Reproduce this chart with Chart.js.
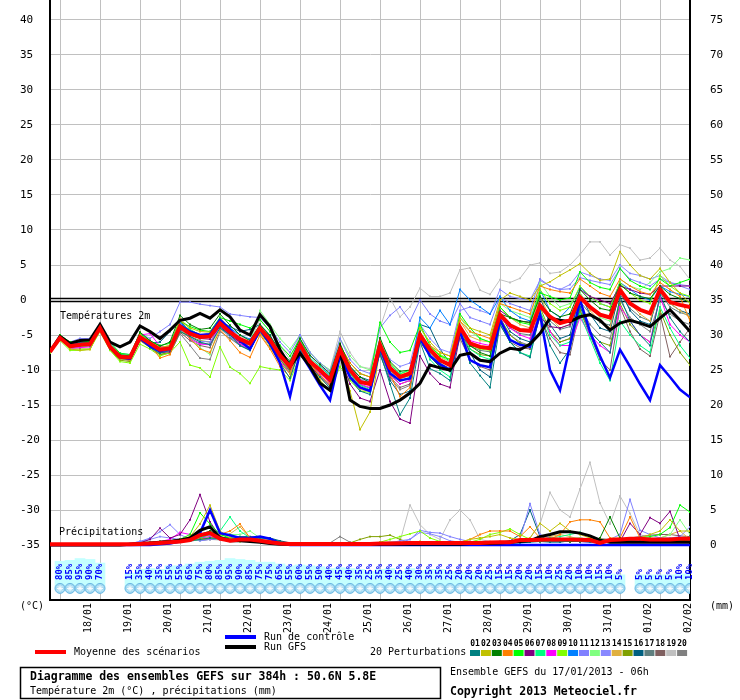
<!DOCTYPE html>
<html>
<head>
<meta charset="utf-8">
<script src="https://cdn.jsdelivr.net/npm/chart.js@4.4.1/dist/chart.umd.min.js"></script>
<style>
  html, body { margin: 0; padding: 0; background: #fff; }
  #wrap { width: 740px; height: 700px; }
</style>
</head>
<body>
<div id="wrap"><canvas id="gefs" width="740" height="700"></canvas></div>
<script>
// GEFS run 17/01/2013 06h, one value every 6h up to 384h (65 steps)
const dateLabels = ['18/01','19/01','20/01','21/01','22/01','23/01','24/01','25/01',
                    '26/01','27/01','28/01','29/01','30/01','31/01','01/02','02/02'];

// 2m temperature (°C)
const meanTemp = [-7.4,-5.4,-6.6,-6.4,-6.3, -4.0,-6.7,-8.1,-8.2, -5.3,-6.2,-7.1,-6.9, -3.8,-4.8,-5.3,-5.2, -3.3,-4.6,-5.6,-6.2, -4.0,-5.7,-7.9,-9.5, -6.4,-8.8,-10.0,-11.4, -7.1,-10.0,-11.7,-12.0, -6.4,-9.7,-11.0,-10.5, -5.0,-7.1,-8.6,-9.3, -3.9,-6.2,-6.7,-6.9, -2.1,-3.6,-4.3,-4.4, -0.8,-2.4,-3.3,-2.9, 0.4,-1.0,-2.1,-2.5, 1.4,-0.5,-1.4,-1.9, 1.5,-0.3,-0.7,-1.0];
const gfsTemp = [-7.4,-5.2,-6.2,-5.8,-5.7, -3.5,-6.0,-6.7,-6.0, -3.7,-4.5,-5.5,-4.3, -2.9,-2.6,-1.9,-2.6, -1.4,-2.4,-4.3,-5.0, -2.1,-3.8,-7.1,-9.5, -7.6,-9.5,-11.9,-12.9, -7.1,-14.3,-15.2,-15.5, -15.5,-15.0,-14.3,-13.3, -11.9,-9.3,-9.7,-10.0, -7.9,-7.6,-8.6,-8.8, -7.6,-6.9,-7.1,-6.3, -4.8,-2.6,-2.9,-3.1, -2.4,-2.1,-2.9,-4.3, -3.3,-2.9,-3.3,-3.8, -2.6,-1.4,-2.9,-4.5];
const ctrlTemp = [-7.4,-5.4,-6.5,-6.3,-6.4, -4.0,-6.8,-8.2,-8.4, -5.5,-6.6,-7.3,-7.0, -3.6,-4.5,-5.0,-4.9, -2.8,-4.2,-5.8,-7.0, -4.2,-6.2,-9.0,-13.8, -7.5,-9.8,-12.2,-14.3, -8.0,-11.0,-12.5,-13.0, -6.8,-10.5,-11.5,-11.2, -5.5,-8.0,-9.2,-10.0, -4.5,-8.6,-9.3,-9.6, -2.8,-5.7,-6.4,-6.7, -2.0,-10.0,-12.9,-6.5, 0.0,-4.5,-8.0,-11.1, -7.1,-9.5,-12.0,-14.3, -9.3,-11.0,-12.8,-13.9];

const t01 = [-7.3,-5.3,-6.2,-6.0,-6.1, -3.8,-6.5,-8.0,-8.3, -5.5,-6.8,-7.6,-7.2, -4.5,-5.2,-6.0,-6.4, -4.0,-5.0,-6.5,-7.2, -4.4,-6.5,-9.0,-11.2, -7.0,-9.8,-11.0,-12.6, -7.5,-11.2,-13.0,-13.5, -7.5,-12.0,-16.4,-14.0, -6.0,-9.8,-10.5,-11.5, -4.5,-9.0,-10.8,-12.5, -3.5,-6.0,-7.5,-8.2, -2.0,-6.5,-9.0,-7.0, -1.0,-4.5,-6.0,-7.5, 0.5,-3.0,-5.0,-6.5, 0.8,-2.5,-4.5,-6.0];
const t02 = [-7.5,-5.6,-7.0,-7.2,-7.1, -4.2,-6.9,-8.4,-8.6, -5.0,-6.0,-6.8,-6.5, -3.0,-4.0,-4.5,-4.6, -2.8,-4.2,-5.5,-6.4, -4.5,-6.5,-9.0,-10.5, -7.2,-9.5,-11.5,-13.0, -8.0,-13.0,-18.5,-16.0, -7.0,-10.0,-11.2,-10.8, -4.0,-6.0,-7.5,-8.0, -2.5,-4.0,-4.5,-5.0, 0.0,1.0,0.5,0.0, 2.0,2.6,3.5,4.3, 5.2,3.8,2.8,3.0, 6.9,5.0,3.5,3.0, 4.5,2.5,1.0,-0.5];
const t03 = [-7.4,-5.5,-6.4,-6.2,-6.0, -3.6,-6.4,-7.8,-8.0, -4.6,-5.8,-6.6,-6.0, -2.2,-3.5,-4.2,-4.0, -2.0,-3.6,-5.0,-5.8, -3.5,-5.2,-7.2,-8.8, -5.5,-7.9,-9.2,-10.5, -6.2,-9.5,-11.0,-11.8, -5.4,-8.8,-10.2,-10.0, -4.5,-8.0,-9.6,-10.2, -4.0,-6.5,-7.5,-8.0, -2.0,-2.5,-3.0,-3.2, 0.5,-1.5,-2.4,-2.0, 1.5,0.0,-1.2,-1.5, 2.2,1.0,0.5,0.2, 2.0,0.8,0.2,-0.3];
const t04 = [-7.2,-5.2,-6.3,-6.3,-6.2, -4.1,-6.8,-8.3,-8.5, -5.8,-6.4,-8.3,-7.8, -4.0,-5.5,-7.0,-7.5, -4.2,-5.8,-7.5,-8.2, -5.0,-7.0,-9.5,-11.0, -7.0,-9.2,-10.8,-12.0, -6.5,-9.0,-10.5,-11.0, -6.0,-10.5,-13.8,-12.5, -5.5,-6.5,-7.5,-8.0, -3.0,-4.5,-5.0,-5.5, -0.5,-1.0,-1.5,-2.0, 2.0,1.5,1.2,1.0, 3.0,2.0,1.0,0.5, 3.0,2.0,1.2,0.8, 2.5,1.5,0.5,-3.0];
const t05 = [-7.5,-5.0,-6.0,-5.8,-6.0, -3.9,-6.0,-7.6,-7.8, -4.8,-5.9,-6.5,-6.2, -3.0,-3.8,-4.3,-4.5, -2.5,-3.0,-3.5,-4.0, -2.8,-4.5,-6.5,-8.0, -5.5,-8.5,-10.2,-11.5, -6.5,-9.0,-10.5,-11.0, -3.2,-6.0,-7.5,-7.2, -3.5,-6.5,-8.0,-8.5, -2.0,-4.0,-5.5,-6.0, -1.0,-2.5,-3.2,-3.5, 1.0,0.5,0.0,0.3, 4.0,2.5,1.8,1.5, 4.5,2.8,2.0,1.5, 3.0,2.0,2.5,3.0];
const t06 = [-7.4,-5.6,-6.8,-6.5,-6.5, -4.3,-7.0,-8.4,-8.6, -5.6,-6.5,-7.5,-7.4, -4.2,-5.0,-5.5,-5.6, -3.8,-5.0,-6.0,-6.8, -4.6,-6.2,-8.2,-9.8, -6.8,-9.5,-10.8,-12.2, -8.0,-12.0,-14.0,-14.5, -10.0,-14.5,-17.0,-17.6, -8.0,-10.5,-12.0,-12.5, -5.0,-6.5,-6.8,-7.0, -1.5,-2.5,-3.0,-3.2, -2.5,-3.8,-4.0,-3.5, 1.5,0.5,0.0,-0.5, 2.0,1.5,1.0,0.8, 2.0,2.0,2.0,2.0];
const t07 = [-7.3,-5.3,-6.5,-6.6,-6.5, -4.0,-6.6,-7.9,-8.0, -5.0,-6.0,-7.0,-6.8, -3.5,-4.2,-5.0,-5.3, -3.0,-4.5,-5.8,-6.3, -4.0,-5.5,-7.5,-9.2, -6.2,-8.3,-9.5,-10.8, -6.8,-10.5,-12.2,-12.8, -6.5,-9.2,-10.5,-10.0, -4.5,-8.5,-10.0,-11.0, -4.5,-7.0,-8.0,-8.5, -3.0,-6.0,-7.5,-8.0, -1.5,-5.0,-6.5,-6.0, -2.0,-5.5,-9.0,-11.5, -3.0,-5.0,-6.5,-7.5, -1.0,-4.0,-6.5,-8.3];
const t08 = [-7.4,-5.4,-6.9,-6.8,-6.7, -4.2,-6.9,-8.3,-8.4, -5.0,-4.8,-6.6,-7.0, -3.6,-5.6,-6.3,-6.4, -3.6,-5.0,-6.3,-7.0, -4.3,-6.4,-8.8,-10.5, -6.6,-9.0,-10.5,-11.8, -7.5,-10.2,-12.0,-12.5, -6.8,-10.8,-12.0,-11.5, -5.2,-7.2,-8.5,-9.0, -4.0,-5.8,-6.2,-6.5, -2.5,-4.0,-5.0,-5.5, -2.0,-4.5,-6.5,-6.5, -2.5,-5.0,-6.5,-7.5, -1.0,-3.0,-5.0,-6.0, 0.5,-3.5,-5.0,-6.0];
const t09 = [-7.6,-5.8,-7.2,-7.2,-7.0, -4.5,-7.2,-8.8,-9.0, -6.3,-7.0,-8.0,-7.5, -6.0,-9.3,-9.7,-11.0, -6.7,-9.6,-10.5,-11.9, -9.5,-9.8,-10.0,-11.5, -8.0,-9.5,-11.5,-13.0, -9.5,-11.5,-13.0,-13.2, -6.2,-9.0,-10.6,-10.0, -6.0,-6.8,-7.8,-8.5, -4.5,-6.5,-7.0,-7.2, -1.0,-2.5,-3.0,-3.3, 1.5,-0.5,-1.5,-1.0, 2.0,0.5,-0.5,-1.0, 2.5,1.0,0.0,-0.5, 3.5,2.0,1.0,0.5];
const t10 = [-7.4,-5.3,-6.5,-6.2,-6.1, -4.0,-6.6,-8.0,-8.1, -5.1,-6.1,-7.0,-6.8, -3.2,-4.4,-5.0,-4.8, -2.8,-4.0,-5.0,-5.6, -3.8,-5.8,-7.8,-9.3, -6.0,-8.5,-9.8,-11.0, -6.5,-9.8,-11.5,-11.8, -6.0,-10.0,-11.2,-10.8, -2.5,-4.0,-1.5,-3.5, 1.5,0.0,-1.0,-2.0, 0.5,-1.5,-2.5,-3.0, 1.5,-1.5,-2.5,-1.0, 1.8,0.5,-0.5,-1.0, 2.5,1.5,0.5,0.0, 2.0,1.2,0.8,0.5];
const t11 = [-7.4,-5.2,-6.0,-5.5,-5.5, -3.6,-6.2,-7.6,-7.8, -4.8,-5.5,-4.5,-3.5, -0.3,-0.3,-0.6,-0.8, -1.0,-2.0,-2.2,-2.4, -2.5,-4.0,-6.0,-7.5, -5.0,-7.5,-9.0,-10.2, -5.5,-8.5,-10.0,-10.5, -4.0,-2.2,-1.0,-3.0, 0.0,-2.0,-3.0,-3.5, -0.5,-2.5,-3.0,-3.5, 0.5,-0.5,-1.0,-1.5, 3.0,2.0,1.5,1.6, 3.2,2.8,2.5,2.2, 4.5,3.0,2.5,2.0, 3.0,2.5,2.0,1.5];
const t12 = [-7.3,-5.1,-6.1,-5.9,-5.8, -3.5,-6.3,-7.7,-7.9, -5.0,-6.2,-7.2,-7.0, -4.0,-5.5,-6.8,-7.8, -3.5,-4.5,-5.5,-6.0, -1.5,-3.5,-5.5,-7.0, -5.0,-7.5,-9.0,-10.0, -5.5,-8.0,-9.5,-10.0, -5.5,-9.5,-11.5,-11.0, -3.8,-6.5,-8.0,-8.8, -2.5,-4.5,-5.5,-6.0, -0.5,-1.5,-2.0,-2.5, 2.5,0.5,-1.0,-0.5, 1.0,-1.0,-2.5,-3.0, 3.0,2.0,1.5,2.5, 4.0,4.5,6.0,5.7];
const t13 = [-7.4,-5.5,-6.6,-6.3,-6.2, -4.1,-6.8,-8.2,-8.3, -5.6,-6.6,-7.4,-7.3, -4.2,-5.3,-5.9,-6.0, -3.9,-5.2,-6.3,-6.9, -3.8,-5.3,-7.2,-8.8, -5.8,-8.0,-9.3,-10.7, -6.8,-9.6,-11.3,-11.6, -5.8,-8.5,-9.5,-9.0, -3.5,-5.5,-7.0,-7.5, -1.5,-1.0,-1.5,-2.0, 1.5,0.5,0.2,0.0, 2.8,2.0,1.5,2.2, 4.0,3.5,3.0,2.8, 5.0,3.8,3.5,3.0, 3.5,2.5,2.2,2.0];
const t14 = [-7.5,-5.6,-6.7,-6.6,-6.5, -3.8,-6.4,-7.9,-8.0, -4.6,-5.8,-6.8,-6.5, -2.6,-4.2,-5.0,-5.2, -2.5,-4.2,-5.5,-6.5, -4.8,-6.8,-9.0,-10.5, -7.2,-9.6,-11.2,-12.5, -7.8,-11.0,-12.8,-13.0, -5.8,-9.5,-10.8,-10.2, -4.5,-6.8,-8.2,-8.8, -3.0,-5.2,-5.8,-6.0, -1.0,-2.5,-3.5,-4.0, 0.5,-2.5,-4.0,-3.5, 1.0,-1.5,-3.0,-4.0, 2.0,-0.5,-2.0,-3.0, 1.5,-0.5,-1.5,-2.5];
const t15 = [-7.6,-5.6,-7.0,-7.0,-7.0, -4.3,-7.1,-8.6,-8.8, -5.8,-6.8,-7.8,-7.5, -4.5,-5.2,-5.8,-6.0, -3.8,-5.0,-6.2,-6.8, -4.8,-6.2,-8.5,-10.0, -7.0,-9.2,-10.5,-11.8, -7.8,-10.8,-12.5,-13.0, -7.0,-10.5,-12.0,-11.5, -5.5,-8.0,-9.5,-10.0, -4.5,-7.0,-7.8,-8.0, -2.5,-5.0,-6.2,-6.5, -1.0,-4.5,-6.0,-5.5, -1.5,-4.5,-6.0,-6.5, -0.5,-3.5,-5.0,-6.0, -1.5,-5.0,-7.5,-9.3];
const t16 = [-7.4,-5.3,-6.4,-6.1,-6.0, -3.8,-6.5,-8.0,-8.1, -5.2,-6.2,-6.0,-4.5, -3.0,-4.5,-5.2,-5.0, -3.0,-3.8,-4.5,-4.2, -3.5,-5.0,-7.5,-9.0, -6.0,-8.5,-10.0,-11.5, -7.0,-9.5,-11.0,-11.5, -7.8,-11.5,-13.5,-13.0, -3.5,-4.0,-7.0,-9.0, -4.0,-7.5,-10.0,-11.0, -2.0,-4.5,-5.5,-6.0, 0.5,-3.5,-5.5,-5.0, 1.0,-2.0,-4.0,-4.5, 1.5,-1.5,-3.0,-3.5, 2.0,-0.5,-1.5,-2.0];
const t17 = [-7.4,-5.4,-6.5,-6.4,-6.4, -4.0,-6.7,-8.2,-8.3, -5.6,-6.8,-7.8,-7.6, -4.4,-5.4,-6.2,-6.3, -4.0,-5.3,-6.5,-7.2, -4.3,-6.0,-8.3,-9.9, -6.7,-9.1,-10.4,-11.9, -7.4,-10.4,-12.1,-12.6, -6.7,-10.2,-11.6,-11.1, -5.3,-7.5,-9.0,-9.8, -4.2,-6.6,-7.2,-7.4, -2.4,-4.0,-4.8,-5.0, -1.0,-3.0,-4.2,-3.8, -0.2,-2.0,-3.2,-3.6, 0.8,-1.2,-2.4,-3.0, 1.0,-1.0,-1.8,-2.2];
const t18 = [-7.3,-5.3,-6.3,-6.5,-6.5, -4.1,-6.7,-8.3,-8.5, -5.4,-6.0,-7.5,-7.7, -4.6,-5.8,-6.5,-6.8, -3.5,-5.0,-6.0,-6.5, -4.5,-6.5,-8.5,-10.2, -6.5,-9.0,-10.2,-11.6, -7.2,-10.0,-11.8,-12.2, -7.0,-11.0,-12.5,-12.0, -6.0,-8.0,-9.5,-10.0, -5.5,-8.5,-9.5,-10.0, -3.5,-6.0,-6.8,-7.0, -2.5,-5.5,-7.5,-7.8, -1.5,-5.0,-8.5,-10.0, -1.0,-4.5,-7.0,-8.0, -2.0,-8.1,-6.0,-4.0];
const t19 = [-7.4,-5.2,-6.3,-6.2,-6.2, -3.9,-6.6,-8.0,-8.1, -5.0,-6.0,-6.8,-6.6, -3.2,-4.4,-5.0,-5.4, -2.5,-4.0,-5.2,-5.8, -2.8,-4.5,-6.5,-8.5, -5.0,-7.5,-9.0,-10.0, -4.5,-7.5,-9.5,-9.8, -4.0,0.3,-2.4,-1.0, 1.7,0.5,0.5,1.0, 4.3,4.6,1.4,0.8, 2.9,2.5,3.1,5.0, 5.3,3.8,4.0,5.0, 6.5,8.3,8.3,6.4, 7.9,7.4,5.7,6.0, 7.4,5.7,4.8,2.9];
const t20 = [-7.5,-5.5,-6.8,-6.7,-6.6, -4.0,-6.6,-8.3,-8.6, -5.4,-6.7,-7.8,-7.6, -4.8,-6.5,-8.3,-8.5, -4.5,-5.5,-6.5,-7.0, -4.2,-6.0,-8.5,-10.5, -6.8,-9.5,-11.0,-12.3, -7.5,-10.5,-12.5,-13.0, -7.2,-11.2,-12.8,-12.2, -5.5,-7.8,-9.2,-10.0, -4.8,-7.5,-8.5,-9.0, -2.8,-5.0,-6.0,-6.5, -1.8,-4.5,-6.0,-5.5, -1.0,-3.5,-5.0,-5.5, 0.0,-2.5,-3.5,-4.5, 0.0,-2.0,-3.0,-3.5];

// 6h precipitation (mm)
const meanRain = [0.1,0.1,0.1,0.1,0.1, 0.1,0.1,0.1,0.1, 0.15,0.2,0.3,0.4, 0.5,0.7,1.4,1.7, 0.9,0.6,0.8,0.8, 0.6,0.4,0.2,0.15, 0.15,0.15,0.15,0.15, 0.15,0.15,0.15,0.15, 0.2,0.2,0.25,0.3, 0.3,0.3,0.3,0.3, 0.3,0.3,0.3,0.35, 0.4,0.4,0.7,0.7, 0.75,0.8,0.8,0.8, 0.75,0.7,0.3,0.7, 0.8,0.9,0.9,0.8, 0.8,0.8,0.9,0.9];
const gfsRain = [0,0,0,0,0, 0,0,0,0.1, 0.2,0.3,0.4,0.5, 0.7,1.0,2.1,2.6, 1.0,0.6,0.6,0.5, 0.4,0.2,0.1,0.1, 0.1,0.1,0.1,0.1, 0.1,0.1,0.1,0.1, 0.1,0.1,0.1,0.1, 0.1,0.1,0.1,0.1, 0.1,0.2,0.2,0.2, 0.3,0.4,0.5,0.6, 1.2,1.5,1.9,1.9, 1.7,1.3,0.7,0.4, 0.4,0.4,0.4,0.4, 0.4,0.4,0.4,0.4];
const ctrlRain = [0,0,0,0,0, 0,0,0,0, 0,0,0.1,0.2, 0.5,0.8,1.7,5.0, 1.7,1.4,1.0,1.0, 1.2,0.9,0.2,0, 0,0,0,0, 0,0,0,0, 0,0,0,0, 0,0,0,0, 0,0,0,0, 0,0,0,0, 0,0,0,0, 0,0,0,0, 0,0,0,0, 0,0,0,0];

const r01 = [0,0,0,0,0, 0,0,0,0.1, 0.2,0.2,0.3,0.4, 0.5,0.6,0.8,1.0, 0.9,0.8,1.0,1.0, 1.0,0.9,0.5,0.2, 0.1,0.1,0.2,0.2, 0.1,0.1,0.1,0, 0,0,0,0.1, 0.1,0.1,0.2,0.2, 0.3,0.3,0.2,0.2, 0.2,0.3,0.3,0.4, 0.5,0.4,0.4,0.6, 0.5,0.4,0.4,0.5, 0.8,0.6,0.5,0.5, 0.6,0.6,0.5,0.5];
const r02 = [0,0,0.1,0.1,0.1, 0,0,0,0.1, 0.2,0.4,0.5,0.6, 0.8,1.2,3.0,5.7, 2.0,1.0,0.8,0.7, 0.6,0.5,0.3,0.1, 0.1,0.1,0,0, 0,0.1,0.1,0.1, 0.1,0.1,0.2,0.3, 0.5,0.3,0.2,0.2, 0.4,0.8,1.0,1.2, 1.5,1.0,0.8,1.0, 3.1,2.0,3.1,2.0, 1.5,1.0,0.8,0.6, 0.8,0.8,1.0,1.5, 2.0,3.6,2.0,2.0];
const r03 = [0,0,0,0,0, 0,0,0.1,0.1, 0.2,0.3,0.5,0.6, 0.8,1.0,1.5,2.0, 1.2,0.8,0.6,0.5, 0.4,0.3,0.2,0.1, 0.1,0,0,0, 0,0,0,0.1, 0.1,0.1,0.1,0.1, 0.2,0.2,0.3,0.2, 0.3,0.3,0.4,0.3, 0.3,0.5,0.6,0.5, 0.6,0.8,0.6,0.5, 0.5,0.6,1.0,4.0, 1.0,0.6,0.5,0.6, 0.7,0.6,0.6,0.7];
const r04 = [0,0,0,0,0, 0,0,0,0.1, 0.2,0.3,0.4,0.5, 0.6,0.8,0.9,1.0, 1.5,2.0,3.0,1.0, 0.6,0.4,0.2,0.1, 0.1,0.1,0.1,0, 0,0,0,0.1, 0.1,0.1,0.2,0.2, 0.2,0.3,0.3,0.3, 0.4,0.8,1.5,2.0, 2.0,2.0,1.2,2.6, 1.0,0.8,1.5,3.3, 3.6,3.6,3.3,1.0, 1.0,4.0,1.0,0.8, 0.8,0.7,0.8,0.8];
const r05 = [0,0,0,0,0, 0,0,0,0.1, 0.2,0.3,0.4,0.6, 0.8,1.5,4.6,3.0, 1.5,1.0,0.8,0.6, 0.5,0.3,0.2,0.1, 0.1,0.1,0,0, 0,0,0,0, 0,0.1,0.1,0.1, 0.1,0.1,0.2,0.2, 0.2,0.2,0.3,0.3, 0.3,0.3,0.4,0.5, 0.5,0.6,0.6,0.5, 0.5,0.5,0.5,0.6, 0.6,0.8,1.0,1.2, 1.5,2.5,5.7,4.7];
const r06 = [0,0,0,0,0, 0,0,0,0.1, 0.3,0.8,2.4,1.0, 1.5,3.6,7.2,3.3, 1.2,0.8,0.6,0.5, 0.4,0.3,0.2,0.1, 0.1,0.1,0.1,0.1, 0.1,0,0,0, 0,0,0.1,0.1, 0.1,0.2,0.2,0.2, 0.2,0.3,0.3,0.4, 0.4,0.5,0.5,0.6, 0.6,0.5,0.5,0.5, 0.5,0.5,0.5,0.6, 0.5,3.1,1.5,3.9, 3.1,4.8,0.8,0.8];
const r07 = [0,0,0,0,0, 0,0,0,0.1, 0.2,0.3,0.4,0.5, 0.6,0.8,1.0,1.5, 2.0,4.0,2.0,1.0, 0.6,0.4,0.2,0.1, 0.1,0.1,0.1,0.1, 0,0,0,0, 0.1,0.1,0.1,0.1, 0.2,0.2,0.3,0.2, 0.3,0.3,0.2,0.3, 0.4,0.5,0.6,0.8, 0.8,1.0,1.2,1.5, 1.8,1.2,0.8,0.6, 0.6,0.5,0.5,0.6, 0.7,0.8,0.7,0.6];
const r08 = [0,0,0,0,0, 0,0,0,0.1, 0.2,0.3,0.5,0.8, 1.8,1.5,1.0,1.2, 0.8,0.7,0.6,0.5, 0.4,0.3,0.2,0.1, 0,0,0,0, 0,0,0,0, 0,0,0.1,0.1, 0.1,0.1,0.2,0.2, 0.2,0.2,0.3,0.3, 0.3,0.4,0.5,0.5, 0.6,0.6,0.8,0.6, 0.5,0.4,0.4,0.5, 0.5,0.6,0.6,0.6, 0.6,0.6,0.6,0.7];
const r09 = [0,0,0,0,0, 0,0,0,0, 0.1,0.2,0.3,0.4, 0.5,0.6,0.8,1.0, 0.8,0.6,0.5,0.5, 0.4,0.3,0.2,0.1, 0.1,0.1,0.1,0.1, 0.1,0.1,0.1,0.1, 0.4,0.8,1.2,1.6, 2.0,1.0,0.5,0.3, 0.3,0.4,0.8,1.5, 1.8,2.3,1.5,0.8, 0.6,0.5,0.6,0.5, 0.5,0.5,0.4,0.5, 0.5,0.5,0.6,0.6, 0.7,0.8,0.9,0.9];
const r10 = [0,0,0,0,0, 0,0,0,0.1, 0.2,0.2,0.3,0.4, 0.5,0.7,1.0,1.5, 1.0,0.7,0.6,0.5, 0.4,0.3,0.2,0.1, 0.1,0.1,0.1,0.1, 0.1,0.1,0,0, 0,0,0.1,0.1, 0.2,0.2,0.2,0.3, 0.3,0.3,0.3,0.4, 0.4,0.5,0.5,0.6, 0.8,0.9,0.9,0.8, 0.7,0.6,0.6,0.5, 0.5,0.6,0.6,0.6, 0.6,0.7,0.7,0.7];
const r11 = [0,0,0,0,0, 0,0,0,0.2, 0.5,1.0,1.9,2.9, 1.5,0.8,0.6,0.8, 0.8,0.7,0.6,0.5, 0.4,0.3,0.2,0.1, 0.1,0.1,0,0, 0,0,0,0, 0.1,0.1,0.3,0.8, 2.1,1.8,1.7,1.2, 0.8,0.5,0.4,0.3, 0.4,0.5,0.8,5.9, 1.5,1.0,0.8,0.6, 0.6,0.6,0.6,0.8, 1.5,6.5,2.1,1.5, 1.0,0.8,0.8,0.7];
const r12 = [0,0,0,0,0, 0,0,0,0.1, 0.2,0.3,0.4,0.5, 0.6,0.8,1.0,1.2, 1.2,1.5,1.5,2.0, 1.0,0.5,0.3,0.1, 0.1,0.1,0.1,0.1, 0.1,0.1,0,0, 0,0.1,0.1,0.1, 0.2,0.2,0.2,0.2, 0.3,0.3,0.3,0.3, 0.4,0.4,0.5,0.5, 0.5,0.6,0.8,1.0, 1.0,0.8,0.6,0.6, 0.6,0.7,0.8,0.8, 1.0,1.5,3.6,1.5];
const r13 = [0,0,0,0,0, 0,0,0.1,0.2, 0.5,0.8,1.2,1.0, 0.8,0.7,0.8,1.0, 0.8,0.7,0.6,0.5, 0.4,0.3,0.2,0.1, 0.1,0.1,0.1,0.1, 0.1,0.1,0.1,0.1, 0.2,0.3,0.6,0.8, 1.8,1.6,1.2,0.6, 0.4,0.3,0.3,0.4, 0.5,0.5,0.6,0.8, 0.7,0.6,0.6,0.6, 0.6,0.6,0.6,0.6, 0.6,0.7,0.8,0.9, 1.0,1.0,1.2,2.6];
const r14 = [0,0,0,0,0, 0,0,0,0.1, 0.2,0.3,0.4,0.5, 0.6,0.7,0.9,1.0, 1.2,1.6,2.6,1.0, 0.6,0.4,0.2,0.1, 0.1,0.1,0.1,0.1, 0.1,0.1,0.1,0.1, 0.1,0.1,0.1,0.1, 0.1,0.2,0.2,0.2, 0.2,0.3,0.3,0.3, 0.4,0.5,0.6,0.6, 0.8,1.2,1.5,1.2, 0.8,0.6,0.5,0.5, 0.5,0.6,0.6,0.8, 1.0,1.5,2.0,0.8];
const r15 = [0,0,0,0,0, 0,0,0,0.1, 0.2,0.2,0.3,0.4, 0.5,0.6,0.8,0.9, 0.9,0.8,0.8,0.7, 0.7,0.6,0.4,0.2, 0.1,0.1,0.1,0.1, 0.1,0.3,0.8,1.2, 1.2,1.4,0.8,0.3, 0.2,0.2,0.2,0.2, 0.2,0.2,0.3,0.3, 0.3,0.4,0.5,0.5, 0.5,0.5,0.5,0.5, 0.5,0.5,0.5,0.5, 0.5,0.6,0.6,0.6, 0.6,0.6,0.6,0.6];
const r16 = [0,0,0,0,0, 0,0,0,0.1, 0.2,0.3,0.3,0.4, 0.5,0.6,0.8,1.0, 1.0,1.1,1.2,1.2, 1.1,1.0,0.6,0.3, 0.2,0.2,0.2,0.2, 0.2,0.1,0.1,0.1, 0.1,0.1,0.1,0.1, 0.1,0.2,0.2,0.3, 0.3,0.3,0.3,0.3, 0.4,0.6,1.5,5.0, 1.2,0.8,0.6,0.6, 0.5,0.5,0.5,0.5, 0.5,0.5,0.5,0.5, 0.5,0.6,0.6,0.6];
const r17 = [0,0,0,0,0, 0,0,0,0.1, 0.2,0.3,0.3,0.4, 0.5,0.6,0.7,0.8, 0.9,0.9,1.0,1.0, 0.9,0.8,0.5,0.2, 0.1,0.1,0.1,0.1, 0.1,0.1,0.1,0.1, 0.1,0.1,0.1,0.1, 0.2,0.2,0.2,0.2, 0.2,0.2,0.3,0.3, 0.3,0.4,0.4,0.5, 0.5,0.6,0.7,0.9, 1.0,0.8,0.7,0.6, 0.6,0.6,0.5,0.5, 0.5,0.5,0.6,0.6];
const r18 = [0,0,0,0,0, 0,0,0,0.1, 0.1,0.2,0.3,0.4, 0.5,0.6,0.7,0.8, 0.8,0.7,0.6,0.6, 0.5,0.4,0.2,0.1, 0.1,0.1,0.1,0.1, 0.1,0.1,0.1,0.1, 0.1,0.1,0.1,0.1, 0.1,0.1,0.2,0.2, 0.2,0.3,0.3,0.3, 0.4,0.4,0.5,0.5, 0.5,0.6,0.6,0.7, 0.8,0.9,0.9,0.8, 0.8,1.0,1.2,1.4, 1.5,1.5,1.3,1.2];
const r19 = [0,0,0,0,0, 0,0,0,0.1, 0.1,0.2,0.3,0.4, 0.5,0.6,0.7,0.8, 0.7,0.6,0.5,0.5, 0.4,0.3,0.2,0.1, 0.1,0.1,0.1,0.1, 0.1,0.1,0.1,0.2, 0.3,0.5,0.5,5.7, 2.9,1.5,0.8,3.6, 5.0,3.6,0.8,0.5, 0.5,0.6,0.6,1.0, 3.0,7.5,5.0,4.0, 8.0,11.8,6.0,3.0, 7.0,4.5,1.5,1.0, 0.8,0.8,0.7,0.7];
const r20 = [0,0,0,0,0, 0,0,0,0.1, 0.2,0.3,0.4,0.4, 0.5,0.6,0.7,0.9, 0.9,0.8,0.8,0.7, 0.6,0.5,0.3,0.2, 0.1,0.1,0.2,0.3, 1.2,0.4,0.2,0.1, 0.1,0.1,0.1,0.1, 0.2,0.2,0.2,0.2, 0.2,0.3,0.3,0.3, 0.3,0.4,0.4,0.5, 0.6,0.7,0.8,0.8, 0.8,0.7,0.6,0.6, 0.6,0.5,0.5,0.6, 0.6,0.6,0.6,0.6];

// probability of snow (%), null = no snow
const snowProb = [null,80,85,95,90,70,null,null, 15,35,40,35,55,55,65,75,80,85,95,90,85,75,75,65,55,60,55,50,40,45,40,35,
                  25,35,40,25,40,30,35,35,25,20,20,20,25,15,15,20,20,15,10,25,20,10,10,15,10,5, null,5,5,5,5,10,10];

const pertTemp = [t01,t02,t03,t04,t05,t06,t07,t08,t09,t10,t11,t12,t13,t14,t15,t16,t17,t18,t19,t20];
const pertRain = [r01,r02,r03,r04,r05,r06,r07,r08,r09,r10,r11,r12,r13,r14,r15,r16,r17,r18,r19,r20];
const pertColors = ['#008080','#c0c000','#008000','#ff8000','#00ff00','#800080','#00ff80','#ff00ff','#80ff00','#0080ff',
                    '#8080ff','#80ff80','#8888ff','#e0b040','#80a000','#006080','#608080','#806060','#c0c0c0','#808080'];

const MONO = '"DejaVu Sans Mono", "Liberation Mono", monospace';
Chart.defaults.font.family = MONO;
Chart.defaults.color = '#000';

function pts(arr) {
  return arr.map((v, i) => ({x: i, y: v}));
}
function thickLine(arr, color, width, axis) {
  return {data: pts(arr), yAxisID: axis, borderColor: color, borderWidth: width,
          pointRadius: 0, tension: 0, fill: false};
}
function thinLine(arr, color, axis) {
  return {data: pts(arr), yAxisID: axis, borderColor: color, borderWidth: 1,
          pointRadius: 1.3, pointStyle: 'rect', pointBackgroundColor: color, pointBorderWidth: 0,
          tension: 0, fill: false};
}

const datasets = [
  thickLine(meanTemp, '#ff0000', 4, 'y'),
  thickLine(meanRain, '#ff0000', 4, 'y2'),
  thickLine(gfsTemp, '#000000', 3, 'y'),
  thickLine(gfsRain, '#000000', 3, 'y2'),
  thickLine(ctrlTemp, '#0000ff', 2.5, 'y'),
  thickLine(ctrlRain, '#0000ff', 2.5, 'y2')
];
pertTemp.forEach((s, k) => datasets.push(thinLine(s, pertColors[k], 'y')));
pertRain.forEach((s, k) => datasets.push(thinLine(s, pertColors[k], 'y2')));

// snow strip at the foot of the plot
const snowIdx = [];
snowProb.forEach((p, i) => { if (p !== null) snowIdx.push(i); });
const bandBase = -41.4;
datasets.push({
  type: 'line', showLine: false, yAxisID: 'y',
  data: snowIdx.map(i => ({x: i, y: -41.2})),
  pointStyle: 'star', pointRadius: 3, pointBorderColor: '#ffffff', pointBorderWidth: 1
});
datasets.push({
  type: 'line', showLine: false, yAxisID: 'y',
  data: snowIdx.map(i => ({x: i, y: -41.2})),
  pointStyle: 'circle', pointRadius: 5, pointBackgroundColor: '#a4daf2',
  pointBorderColor: '#6cb8e4', pointBorderWidth: 1
});
datasets.push({
  type: 'bar', yAxisID: 'y',
  data: snowIdx.map(i => ({x: i, y: [bandBase, bandBase + 2.0 + snowProb[i] * 0.026]})),
  backgroundColor: '#c4ffff', borderWidth: 0, barThickness: 10, grouped: false
});

function text(ctx, s, x, y, font, color, align) {
  ctx.font = font;
  ctx.fillStyle = color || '#000';
  ctx.textAlign = align || 'left';
  ctx.textBaseline = 'middle';
  ctx.fillText(s, x, y);
}

const decor = {
  id: 'decor',
  beforeDatasetsDraw(chart) {
    const {ctx, chartArea: a, scales: {y}} = chart;
    const y0 = y.getPixelForValue(0);
    ctx.save();
    ctx.strokeStyle = '#000';
    ctx.lineWidth = 1.3;
    [y0 - 1.5, y0 + 1.5].forEach(v => {
      ctx.beginPath(); ctx.moveTo(a.left, v); ctx.lineTo(a.right, v); ctx.stroke();
    });
    ctx.restore();
  },
  afterDatasetsDraw(chart) {
    const {ctx, chartArea: a, scales: {x, y}} = chart;
    ctx.save();
    text(ctx, 'Températures 2m', a.left + 10, y.getPixelForValue(0) + 16, '10px ' + MONO);
    text(ctx, 'Précipitations', a.left + 9, y.getPixelForValue(-35) - 13, '10px ' + MONO);
    const yText = y.getPixelForValue(-35) + 35;
    snowIdx.forEach(i => {
      ctx.save();
      ctx.translate(x.getPixelForValue(i), yText);
      ctx.rotate(-Math.PI / 2);
      text(ctx, snowProb[i] + '%', 0, 0, 'bold 9px ' + MONO, '#0000ff', 'left');
      ctx.restore();
    });
    ctx.restore();
  },
  afterDraw(chart) {
    const ctx = chart.ctx;
    const f10 = '10px ' + MONO;
    ctx.save();
    text(ctx, '(°C)', 20, 606, f10);
    text(ctx, '(mm)', 710, 606, f10);

    ctx.lineWidth = 4;
    [['#ff0000', 35, 652], ['#0000ff', 225, 637], ['#000000', 225, 647]].forEach(([c, lx, ly]) => {
      ctx.strokeStyle = c;
      ctx.beginPath(); ctx.moveTo(lx, ly); ctx.lineTo(lx + 31, ly); ctx.stroke();
    });
    text(ctx, 'Moyenne des scénarios', 74, 652, f10);
    text(ctx, 'Run de contrôle', 264, 637, f10);
    text(ctx, 'Run GFS', 264, 647, f10);
    text(ctx, '20 Perturbations', 370, 652, f10);
    pertColors.forEach((c, k) => {
      const bx = 470 + k * 10.9;
      ctx.fillStyle = c;
      ctx.fillRect(bx, 650, 10, 6);
      text(ctx, String(k + 1).padStart(2, '0'), bx + 5, 644, 'bold 8px ' + MONO, '#000', 'center');
    });

    ctx.strokeStyle = '#000';
    ctx.lineWidth = 1.5;
    ctx.strokeRect(20.5, 667.5, 420, 31);
    text(ctx, 'Diagramme des ensembles GEFS sur 384h : 50.6N 5.8E', 30, 677, 'bold 11.5px ' + MONO);
    text(ctx, 'Température 2m (°C) , précipitations (mm)', 30, 691, f10);
    text(ctx, 'Ensemble GEFS du 17/01/2013 - 06h', 450, 672, f10);
    text(ctx, 'Copyright 2013 Meteociel.fr', 450, 692, 'bold 11.5px ' + MONO);
    ctx.restore();
  }
};

const tMin = -300 / 7, tMax = 300 / 7;
const gridGray = '#c0c0c0';

new Chart(document.getElementById('gefs'), {
  type: 'line',
  data: {datasets: datasets},
  options: {
    responsive: false,
    animation: false,
    devicePixelRatio: 1,
    layout: {autoPadding: false, padding: {left: 20, right: 0, top: 0, bottom: 0}},
    plugins: {legend: {display: false}, tooltip: {enabled: false}},
    scales: {
      x: {
        type: 'linear', min: 0, max: 64, offset: false,
        afterBuildTicks: s => { s.ticks = dateLabels.map((_, k) => ({value: 3 + 4 * k})); },
        afterFit: s => { s.height = 100; s.paddingLeft = 0; s.paddingRight = 0; },
        grid: {color: gridGray, drawTicks: false},
        border: {color: '#000', width: 2},
        ticks: {
          autoSkip: false, minRotation: 90, maxRotation: 90, padding: 3, labelOffset: 8,
          font: {size: 10},
          callback: (v, i) => dateLabels[i]
        }
      },
      y: {
        position: 'left', min: tMin, max: tMax,
        afterBuildTicks: s => {
          const t = [];
          for (let v = -35; v <= 40; v += 5) t.push({value: v});
          s.ticks = t;
        },
        afterFit: s => { s.width = 30; s.paddingTop = 0; s.paddingBottom = 0; },
        grid: {color: c => c.tick && c.tick.value === 0 ? 'rgba(0,0,0,0)' : gridGray, drawTicks: false},
        border: {color: '#000', width: 2},
        ticks: {crossAlign: 'far', padding: 0, font: {size: 11}, callback: v => String(v)}
      },
      y2: {
        position: 'right', min: tMin + 35, max: tMax + 35,
        afterBuildTicks: s => {
          const t = [];
          for (let v = 0; v <= 75; v += 5) t.push({value: v});
          s.ticks = t;
        },
        afterFit: s => { s.width = 50; s.paddingTop = 0; s.paddingBottom = 0; },
        grid: {display: false, drawTicks: false},
        border: {display: true, color: '#000', width: 2},
        ticks: {padding: 20, font: {size: 11}, callback: v => String(v)}
      }
    }
  },
  plugins: [decor]
});
</script>
</body>
</html>
